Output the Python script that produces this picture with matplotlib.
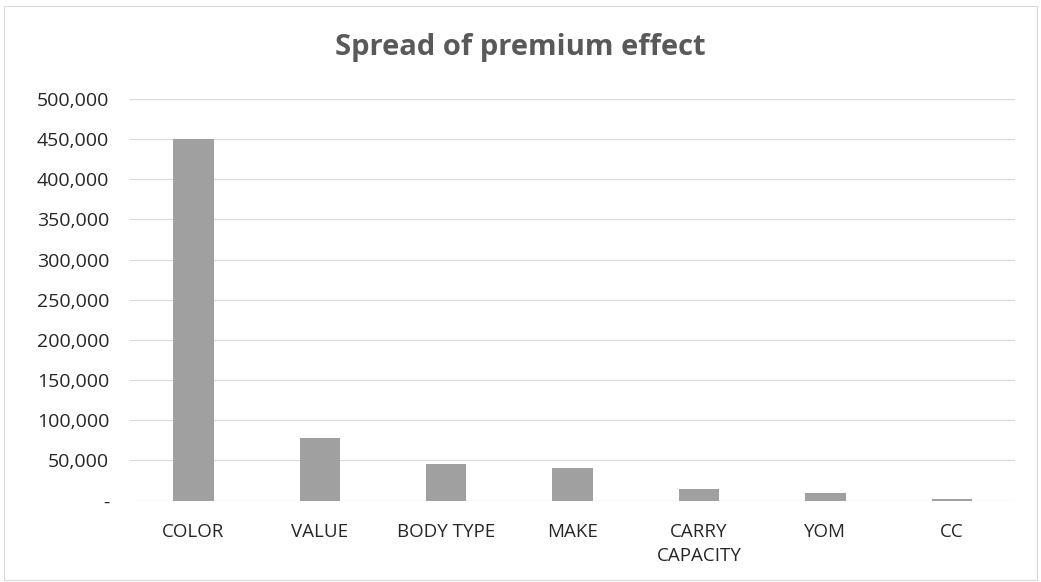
import numpy as np
import matplotlib
matplotlib.use("Agg")
from matplotlib import pyplot as plt
from matplotlib.ticker import FuncFormatter

categories = ['COLOR', 'VALUE', 'BODY TYPE', 'MAKE', 'CARRY\nCAPACITY', 'YOM', 'CC']
premium_spread = [450000, 78000, 45000, 41000, 14500, 9500, 2500]
yticks = list(range(0, 500001, 50000))

plt.rcParams['font.family'] = ['Open Sans', 'DejaVu Sans']

fig = plt.figure(figsize=(10.41, 5.82), dpi=100)
ax = fig.add_axes([0.125, 0.14, 0.850, 0.69])

x = np.arange(len(categories))
ax.bar(x, premium_spread, width=0.32, color='#a0a0a0', zorder=2)

ax.set_xlim(-0.5, len(categories) - 0.5)
ax.set_ylim(0, 500000)
ax.set_yticks(yticks)
ax.yaxis.set_major_formatter(FuncFormatter(lambda v, p: '-' if v == 0 else f'{v:,.0f}'))
ax.set_xticks(x)
ax.set_xticklabels(categories, fontsize=13.5, color='#262626', linespacing=1.45)
ax.tick_params(axis='y', labelsize=14, labelcolor='#262626', length=0, pad=15)
ax.tick_params(axis='x', length=0, pad=16)
for lbl in ax.get_xticklabels():
    lbl.set_verticalalignment('top')

ax.grid(axis='y', color='#d9d9d9', linewidth=0.9, zorder=0)
for s in ax.spines.values():
    s.set_visible(False)

fig.text(0.5, 0.918, 'Spread of premium effect', ha='center', va='center',
         fontsize=21, fontweight='bold', color='#595959')

# chart border
fig.patches.append(plt.Rectangle((0.004, 0.004), 0.992, 0.985, transform=fig.transFigure,
                                 fill=False, edgecolor='#d9d9d9', linewidth=0.8))

plt.savefig('out.png', dpi=100)
